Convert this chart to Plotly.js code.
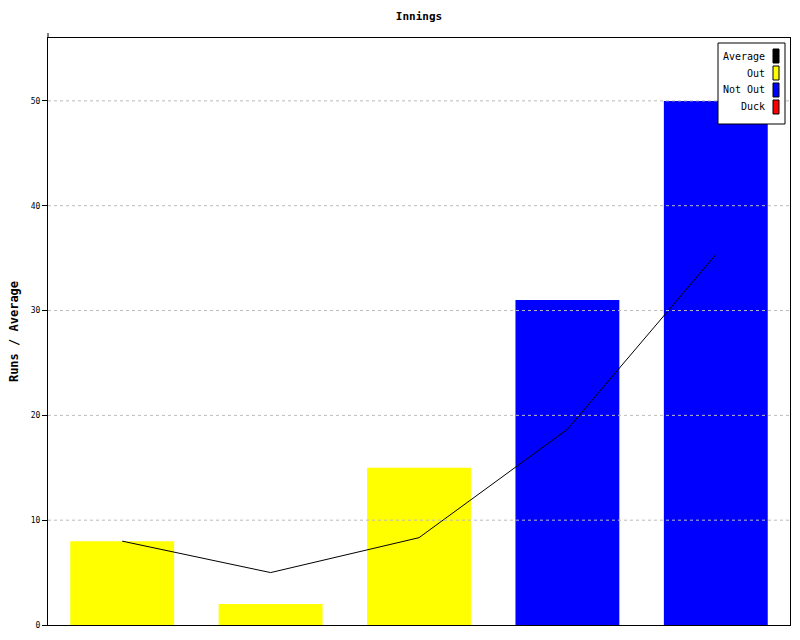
<!DOCTYPE html>
<html>
<head>
<meta charset="utf-8">
<script src="https://cdn.plot.ly/plotly-3.0.1.min.js"></script>
<style>html,body{margin:0;padding:0;background:#fff;}#chart{width:800px;height:640px;}</style>
</head>
<body>
<div id="chart"></div>
<script>
// Data
const innings = [1, 2, 3, 4, 5];
const runs = [8, 2, 15, 31, 50];
const status = ["Out", "Out", "Out", "Not Out", "Not Out"];
const average = [8, 5, 8.33, 18.67, 35.33];
const legendNames = ["Average", "Out", "Not Out", "Duck"];
const legendColors = ["#000000", "#ffff00", "#0000ff", "#ff0000"];
const yTicks = [0, 10, 20, 30, 40, 50];

const statusColor = {"Out": "#ffff00", "Not Out": "#0000ff", "Duck": "#ff0000"};
const mono = "DejaVu Sans Mono, Liberation Mono, monospace";

const traces = [
  {
    type: "bar", x: innings, y: runs,
    marker: {color: status.map(s => statusColor[s]), line: {width: 0}},
    showlegend: false, hoverinfo: "skip"
  },
  {
    type: "scatter", mode: "lines", x: innings, y: average,
    line: {color: "#000000", width: 1},
    showlegend: false, hoverinfo: "skip"
  }
];

// Gridlines drawn above bars, from tick values
const shapes = yTicks.filter(v => v > 0).map(v => ({
  type: "line", xref: "paper", yref: "y", x0: 0, x1: 1, y0: v, y1: v,
  line: {color: "#bbbbbb", width: 1, dash: "dot"}, layer: "above"
}));

// Custom legend (swatches to the right of right-aligned labels)
const lgX0 = (718 - 48) / 742, lgX1 = (785 - 48) / 742;
const pxY = p => (625 - p) / 587;
shapes.push({type: "rect", xref: "paper", yref: "paper", x0: lgX0, x1: lgX1,
  y0: pxY(124), y1: pxY(43), line: {color: "#000", width: 1}, fillcolor: "#fff", layer: "above"});
const annotations = [];
legendNames.forEach((n, i) => {
  const cy = 56 + i * 17;
  shapes.push({type: "rect", xref: "paper", yref: "paper",
    x0: (773 - 48) / 742, x1: (779 - 48) / 742, y0: pxY(cy + 7), y1: pxY(cy - 7),
    line: {color: "#000", width: 1}, fillcolor: legendColors[i], layer: "above"});
  annotations.push({xref: "paper", yref: "paper", x: (767 - 48) / 742, y: pxY(cy),
    xanchor: "right", yanchor: "middle", text: n, showarrow: false,
    font: {family: mono, size: 10, color: "#000"}});
});
// Left axis line extends slightly above the frame
shapes.push({type: "line", xref: "paper", yref: "paper", x0: 0, x1: 0, y0: 1, y1: pxY(33),
  line: {color: "#000", width: 1}, layer: "above"});

const layout = {
  width: 800, height: 640,
  margin: {l: 48, r: 10, t: 38, b: 15, pad: 0},
  paper_bgcolor: "#fff", plot_bgcolor: "#fff",
  title: {text: "<b>Innings</b>", x: 0.5, xref: "paper", xanchor: "center", y: 1, yref: "container",
    yanchor: "top", pad: {t: 12}, font: {family: mono, size: 11, color: "#000"}},
  bargap: 0.3,
  xaxis: {
    range: [0.5, 5.5], showticklabels: false, ticks: "", showgrid: false, zeroline: false,
    showline: true, linecolor: "#000", linewidth: 1, mirror: true, fixedrange: true
  },
  yaxis: {
    range: [0, 56], tickvals: yTicks, ticktext: yTicks.map(String), ticks: "outside", ticklen: 5,
    tickcolor: "#000", tickfont: {family: mono, size: 8, color: "#000"},
    showgrid: false, zeroline: false, showline: true, linecolor: "#000", linewidth: 1, mirror: true,
    title: {text: "<b>Runs / Average</b>", font: {family: mono, size: 12, color: "#000"}, standoff: 9},
    fixedrange: true
  },
  shapes: shapes,
  annotations: annotations,
  showlegend: false
};

Plotly.newPlot("chart", traces, layout, {staticPlot: true, displayModeBar: false});
</script>
</body>
</html>
